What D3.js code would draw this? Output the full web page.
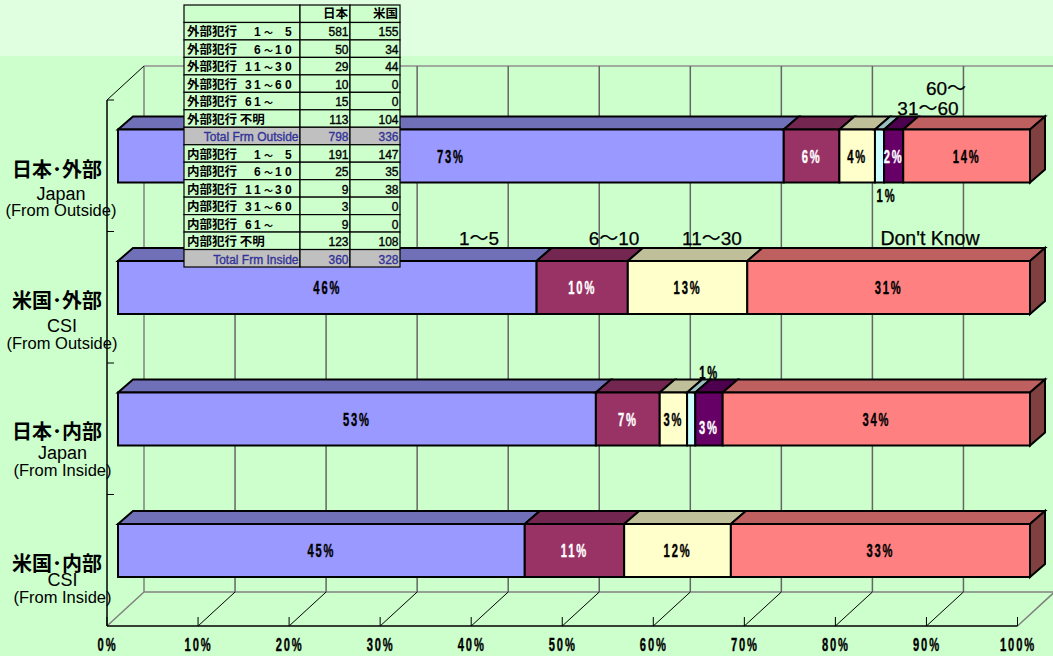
<!DOCTYPE html>
<html>
<head>
<meta charset="utf-8">
<script src="https://cdn.jsdelivr.net/npm/d3@7"></script>
<style>
  html, body { margin: 0; padding: 0; background: #ccffcc; }
  svg { display: block; }
  text { fill: #000; }
  .pct { font-family: "Liberation Sans", sans-serif; font-weight: bold; font-size: 18px; letter-spacing: 3px; stroke-width: 0.4px; }
  .ser { font-family: "Liberation Sans", "Noto Sans CJK JP", sans-serif; font-size: 19px; stroke: #000; stroke-width: 0.25px; }
  .tb { font-family: "Liberation Sans", sans-serif; font-size: 12px; stroke-width: 0.35px; }
  .tbc { font-family: "Noto Sans CJK JP", sans-serif; font-weight: bold; font-size: 12.5px; }
  .tbd { font-family: "Liberation Sans", "Noto Sans CJK JP", sans-serif; font-weight: bold; font-size: 12px; }
</style>
</head>
<body>
<svg id="chart" width="1053" height="656"></svg>
<script>
// chart values
const categories = ["jpOut", "usOut", "jpIn", "usIn"];
const catJa = ["日本･外部", "米国･外部", "日本･内部", "米国･内部"];
const catEn1 = ["Japan", "CSI", "Japan", "CSI"];
const catEn2 = ["(From Outside)", "(From Outside)", "(From Inside)", "(From Inside)"];
const seriesNames = ["1～5", "6～10", "11～30", "31～60", "60～", "Don't Know"];
const s1to5 = [73, 45.9, 52.4, 44.6];
const s6to10 = [6.1, 10, 7, 10.9];
const s11to30 = [3.9, 13.1, 3, 11.7];
const s31to60 = [1, 0, 0.9, 0];
const s60up = [2.1, 0, 3, 0];
const sUnknown = [13.9, 31, 33.7, 32.8];
const barLabels = [
  ["73%", "6%", "4%", "1%", "2%", "14%"],
  ["46%", "10%", "13%", "", "", "31%"],
  ["53%", "7%", "3%", "1%", "3%", "34%"],
  ["45%", "11%", "12%", "", "", "33%"]
];
const xTicks = [0, 10, 20, 30, 40, 50, 60, 70, 80, 90, 100];

// table in the upper part
const tableHead = ["", "日本", "米国"];
const rowNames = ["外部犯行", "外部犯行", "外部犯行", "外部犯行", "外部犯行", "外部犯行 不明", "Total Frm Outside",
  "内部犯行", "内部犯行", "内部犯行", "内部犯行", "内部犯行", "内部犯行 不明", "Total Frm Inside"];
const rowRanges = ["　1～　5", "　6～10", "11～30", "31～60", "61～", "", "",
  "　1～　5", "　6～10", "11～30", "31～60", "61～", "", ""];
const japanCounts = [581, 50, 29, 10, 15, 113, 798, 191, 25, 9, 3, 9, 123, 360];
const usCounts = [155, 34, 44, 0, 0, 104, 336, 147, 35, 38, 0, 0, 108, 328];

const faceColors = ["#9999ff", "#993366", "#ffffcc", "#ccffff", "#660066", "#ff8080"];
const topColors = ["#7070b8", "#732650", "#bfbf99", "#99bfbf", "#4d004d", "#bf6060"];
const textColors = ["#000", "#fff", "#000", "#000", "#fff", "#000"];

const svg = d3.select("#chart");

svg.append("rect").attr("width", 1053).attr("height", 56).attr("fill", "#e0ffe0");

// scales: floor front edge, bars sit a bit behind it
const x = d3.scaleLinear().domain([0, 100]).range([107, 1017.5]);
const xBar = d3.scaleLinear().domain([0, 100]).range([118, 1030]);
const y = d3.scaleBand().domain(categories).range([100, 626]);

const depthX = 37, depthY = 34;
const barDx = 15, barDy = 13, barH = 53;
const grey = "#808080";

// back wall
const grid = svg.append("g");
grid.append("line").attr("x1", x(0) + depthX).attr("x2", 1053).attr("y1", 100 - depthY).attr("y2", 100 - depthY)
  .attr("stroke", "#909090").attr("stroke-width", 1.5);
grid.append("line").attr("x1", x(0) + depthX).attr("x2", 1053).attr("y1", 626 - depthY).attr("y2", 626 - depthY)
  .attr("stroke", grey).attr("stroke-width", 1.5);
xTicks.forEach(t => {
  const edge = t === 0 || t === 100;
  grid.append("line").attr("x1", x(t) + depthX).attr("x2", x(t) + depthX).attr("y1", 100 - depthY).attr("y2", 626 - depthY)
    .attr("stroke", t === 0 ? grey : "#666").attr("stroke-width", 1.5);
  // floor lines
  grid.append("line").attr("x1", x(t)).attr("x2", x(t) + depthX).attr("y1", 626).attr("y2", 626 - depthY)
    .attr("stroke", edge ? grey : "#000").attr("stroke-width", edge ? 1.5 : 1);
  grid.append("line").attr("x1", x(t)).attr("x2", x(t)).attr("y1", 626).attr("y2", 617).attr("stroke", "#000");
});

// left wall and axes
grid.append("line").attr("x1", x(0)).attr("x2", x(0) + depthX).attr("y1", 100).attr("y2", 100 - depthY).attr("stroke", "#000");
grid.append("line").attr("x1", x(0)).attr("x2", x(0)).attr("y1", 100).attr("y2", 626).attr("stroke", "#000").attr("stroke-width", 1.5);
grid.append("line").attr("x1", x(0)).attr("x2", x(100)).attr("y1", 626).attr("y2", 626).attr("stroke", "#000").attr("stroke-width", 1.5);
categories.forEach(c => {
  grid.append("line").attr("x1", x(0)).attr("x2", x(0) + 7).attr("y1", y(c)).attr("y2", y(c)).attr("stroke", "#000");
});

// x axis labels
const xAxis = d3.axisBottom(x).tickValues(xTicks).tickFormat(d => d + "%").tickSize(0).tickPadding(12);
const axG = svg.append("g").attr("transform", "translate(0,626)").call(xAxis);
axG.select(".domain").remove();
axG.selectAll("text").attr("class", "pct").attr("fill", "#000").attr("font-size", null).attr("font-family", null)
  .attr("transform", "scale(0.62,1)").style("stroke", "#000");

// bars
const allSeries = [s1to5, s6to10, s11to30, s31to60, s60up, sUnknown];
const barsG = svg.append("g");
categories.forEach((c, i) => {
  const top = y(c) + y.bandwidth() / 2 - 9.75 - barH / 2;
  let acc = 0;
  allSeries.forEach((vals, j) => {
    const v = vals[i];
    if (!v) return;
    const x0 = xBar(acc), x1 = xBar(acc + v);
    acc += v;
    barsG.append("path")
      .attr("d", `M${x0},${top}L${x0 + barDx},${top - barDy}L${x1 + barDx},${top - barDy}L${x1},${top}Z`)
      .attr("fill", topColors[j]).attr("stroke", "#000").attr("stroke-width", 2);
    barsG.append("rect").attr("x", x0).attr("y", top).attr("width", x1 - x0).attr("height", barH)
      .attr("fill", faceColors[j]).attr("stroke", "#000").attr("stroke-width", 2);
  });
  const xe = xBar(100);
  barsG.append("path")
    .attr("d", `M${xe},${top}L${xe + barDx},${top - barDy}L${xe + barDx},${top - barDy + barH}L${xe},${top + barH}Z`)
    .attr("fill", "#804040").attr("stroke", "#000").attr("stroke-width", 2);

  // value labels
  acc = 0;
  allSeries.forEach((vals, j) => {
    const v = vals[i];
    const mid = acc + v / 2;
    acc += v;
    const label = barLabels[i][j];
    if (!label) return;
    let lx = xBar(mid), ly = top + 33;
    if (j === 3 && i === 0) { ly = top + 72; lx += 7; }       // 1% under the bar
    if (j === 3 && i === 2) { ly = top - 13.5; lx += 18; }    // 1% over the bar
    if (j === 4 && i === 2) { ly = top + 41; }
    const col = (j === 3) ? "#000" : textColors[j];
    barsG.append("text").attr("class", "pct").attr("text-anchor", "middle")
      .attr("transform", `translate(${lx},${ly}) scale(0.62,1)`)
      .style("fill", col).style("stroke", col).text(label);
  });
});

// series names over the bars
const serX = [479, 614, 712, 928, 946, 930];
const serY = [245, 245, 245, 115, 95, 245];
seriesNames.forEach((n, i) => {
  svg.append("text").attr("class", "ser").attr("x", serX[i]).attr("y", serY[i]).attr("text-anchor", "middle")
    .style("font-size", n === "Don't Know" ? "19.5px" : null).text(n);
});

// category labels
const catX = [57, 57, 57, 57];
const enX = [61, 62, 62.5, 62.5];
const jaY = [177, 308, 439, 571];
const en1Y = [200, 332, 459, 586];
const en2Y = [216, 349, 476, 603];
categories.forEach((c, i) => {
  svg.append("text").attr("x", catX[i]).attr("y", jaY[i]).attr("text-anchor", "middle")
    .attr("font-family", "'Noto Sans CJK JP'").attr("font-weight", "bold").attr("font-size", 20).text(catJa[i]);
  svg.append("text").attr("x", enX[i]).attr("y", en1Y[i]).attr("text-anchor", "middle")
    .attr("font-family", "'Liberation Sans'").attr("font-size", 18).text(catEn1[i]);
  svg.append("text").attr("x", enX[i]).attr("y", en2Y[i]).attr("text-anchor", "middle")
    .attr("font-family", "'Liberation Sans'").attr("font-size", 16.5).text(catEn2[i]);
});

// data table
const colX = [184, 300, 350, 400];
const rowY = d3.scaleLinear().domain([0, 15]).range([5, 267]);
const rangeSlots = [245, 254, 264, 275, 285];
const tbl = svg.append("g");
const rowH = rowY(1) - rowY(0);
function cell(r, c, fill) {
  tbl.append("rect").attr("x", colX[c]).attr("y", rowY(r)).attr("width", colX[c + 1] - colX[c]).attr("height", rowH)
    .attr("fill", fill).attr("stroke", "#000").attr("stroke-width", 1.2);
}
[0, 1, 2].forEach(c => cell(0, c, "#ccffcc"));
tbl.append("text").attr("class", "tbc").attr("x", colX[2] - 2).attr("y", rowY(1) - 4).attr("text-anchor", "end").text(tableHead[1]);
tbl.append("text").attr("class", "tbc").attr("x", colX[3] - 2).attr("y", rowY(1) - 4).attr("text-anchor", "end").text(tableHead[2]);
rowNames.forEach((n, i) => {
  const isTotal = n.startsWith("Total");
  const r = i + 1;
  const fill = isTotal ? "#c0c0c0" : "#ccffcc";
  [0, 1, 2].forEach(c => cell(r, c, fill));
  const base = rowY(r + 1) - 3.5;
  const col = isTotal ? "#333399" : "#000";
  if (isTotal) {
    tbl.append("text").attr("class", "tb").attr("x", colX[1] - 1.5).attr("y", base).attr("text-anchor", "end")
      .style("fill", col).style("stroke", col).text(n);
  } else {
    tbl.append("text").attr("class", "tbc").attr("x", colX[0] + 3).attr("y", base).text(n);
    // range digits sit in fixed slots, the wave dash is smaller than the digits
    Array.from(rowRanges[i]).forEach((ch, k) => {
      if (ch === "　") return;
      tbl.append("text").attr("class", "tbd").attr("x", rangeSlots[k]).attr("y", base)
        .style("font-size", ch === "～" ? "9px" : null).text(ch);
    });
  }
  tbl.append("text").attr("class", "tb").attr("x", colX[2] - 1.5).attr("y", base).attr("text-anchor", "end")
    .style("fill", col).style("stroke", col).text(japanCounts[i]);
  tbl.append("text").attr("class", "tb").attr("x", colX[3] - 1.5).attr("y", base).attr("text-anchor", "end")
    .style("fill", col).style("stroke", col).text(usCounts[i]);
});
</script>
</body>
</html>
